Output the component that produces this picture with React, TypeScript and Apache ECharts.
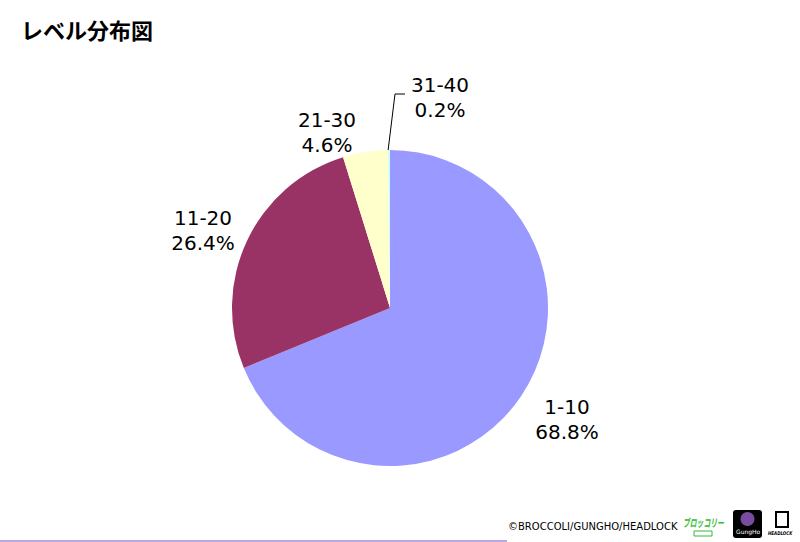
import React, { useEffect, useRef } from "react";
import * as echarts from "echarts";

const categories = ["1-10", "11-20", "21-30", "31-40"];
const percents = [68.8, 26.4, 4.6, 0.2];
const colors = ["#9999FF", "#993366", "#FFFFCC", "#CCFFFF"];
const labelPos: [number, number, string][] = [
  [567, 419, "center"],
  [203, 230, "center"],
  [327, 132, "center"],
  [440, 97, "center"],
];
const CX = 390;
const CY = 308;
const R = 158;

export default function App() {
  const ref = useRef<HTMLDivElement>(null);
  useEffect(() => {
    if (!ref.current) return;
    const chart = echarts.init(ref.current, null, { renderer: "svg" });
    const data = categories.map((name, i) => ({
      name,
      value: percents[i],
      itemStyle: { color: colors[i] },
    }));
    chart.setOption({
      animation: false,
      backgroundColor: "#ffffff",
      title: {
        text: "レベル分布図",
        left: 16,
        top: 13,
        textStyle: {
          fontFamily: "Noto Sans CJK JP",
          fontWeight: "bold",
          fontSize: 22,
          color: "#000",
        },
      },
      series: [
        {
          type: "pie",
          center: [CX, CY],
          radius: R,
          startAngle: 90,
          clockwise: true,
          data,
          label: {
            show: true,
            position: "outside",
            formatter: (p: any) => `${p.name}\n${p.value.toFixed(1)}%`,
            fontFamily: "DejaVu Sans",
            fontSize: 20,
            fontWeight: 500,
            lineHeight: 25,
            color: "#000",
            align: "center",
          },
          labelLine: { show: false },
          labelLayout: (params: any) => {
            const p = labelPos[params.dataIndex];
            return { x: p[0], y: p[1], align: p[2], verticalAlign: "middle" };
          },
          emphasis: { disabled: true },
        },
      ],
      graphic: [
        {
          type: "polyline",
          shape: {
            points: [
              [CX - 2, CY - R + 1],
              [CX + 5, 94],
              [CX + 15, 94],
            ],
          },
          style: { stroke: "#000", lineWidth: 1, fill: null },
        },
        {
          type: "line",
          shape: { x1: 0, y1: 541, x2: 507, y2: 541 },
          style: { stroke: "#b8a8e8", lineWidth: 2 },
        },
        {
          type: "text",
          left: 508,
          top: 521,
          style: {
            text: "©BROCCOLI/GUNGHO/HEADLOCK",
            font: "10px 'DejaVu Sans'",
            fill: "#000",
          },
        },
        {
          type: "text",
          x: 683,
          y: 517,
          scaleX: 0.62,
          style: {
            text: "ブロッコリー",
            font: "italic bold 11px 'Noto Sans CJK JP'",
            fill: "#33bb33",
          },
        },
        {
          type: "rect",
          shape: { x: 694, y: 531, width: 18, height: 5 },
          style: { fill: "#ffffff", stroke: "#33bb33", lineWidth: 1 },
        },
        {
          type: "rect",
          shape: { x: 733, y: 510, width: 29, height: 28, r: 3 },
          style: { fill: "#000" },
        },
        {
          type: "circle",
          shape: { cx: 747.5, cy: 519, r: 7 },
          style: { fill: "#7a4ca0" },
        },
        {
          type: "text",
          x: 736,
          y: 528,
          style: { text: "GungHo", font: "6px 'DejaVu Sans'", fill: "#fff" },
        },
        {
          type: "rect",
          shape: { x: 776, y: 512, width: 12, height: 15 },
          style: { fill: "#fff", stroke: "#000", lineWidth: 2 },
        },
        {
          type: "text",
          x: 768,
          y: 531,
          scaleX: 0.8,
          style: {
            text: "HEADLOCK",
            font: "italic bold 5px 'DejaVu Sans'",
            fill: "#000",
          },
        },
      ],
    });
    return () => chart.dispose();
  }, []);
  return (
    <div
      ref={ref}
      style={{ position: "fixed", left: 0, top: 0, width: 800, height: 542 }}
    />
  );
}
